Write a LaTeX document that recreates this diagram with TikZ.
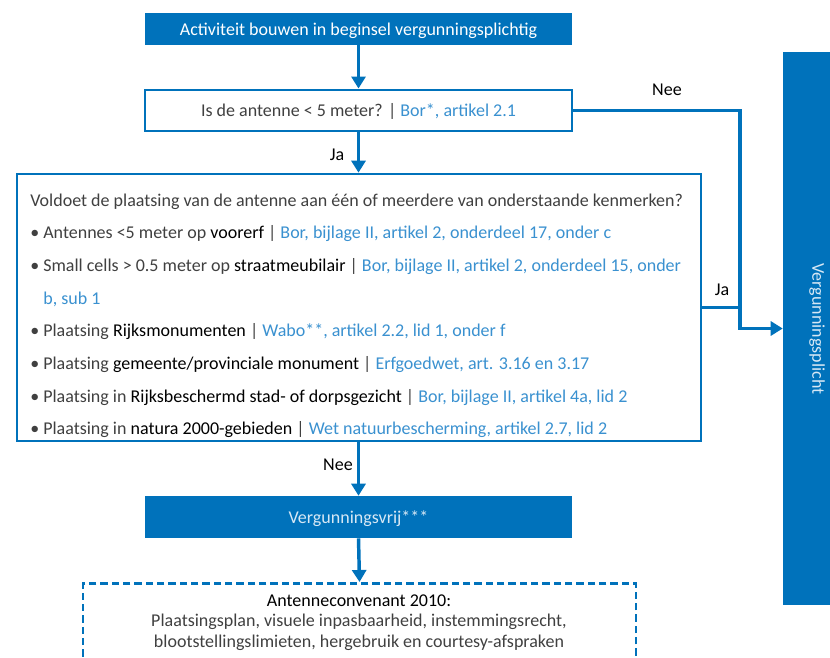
\documentclass[tikz,border=0pt]{standalone}
\usepackage{fontspec}
\setmainfont{Carlito}
\usetikzlibrary{arrows.meta}

\definecolor{vblue}{RGB}{0,114,187}
\definecolor{reflink}{RGB}{58,145,208}
\definecolor{bodygray}{RGB}{64,64,64}
\definecolor{softwhite}{RGB}{215,232,245}

\newcommand\kw[1]{\textcolor{black}{#1}}
\newcommand\lawref[1]{\textcolor{reflink}{#1}}

\begin{document}
\begin{tikzpicture}[x=0.75pt,y=-0.75pt,
  every node/.style={font=\fontsize{13.5}{16}\selectfont},
  solidbox/.style={fill=vblue, draw=none, inner sep=0pt},
  outlinebox/.style={draw=vblue, fill=white, inner sep=0pt},
  boxtext/.style={text height=11.5pt, text depth=2.5pt},
  dashbox/.style={draw=vblue, line width=2.2pt, dash pattern=on 5.5pt off 3pt, inner sep=0pt},
  bodyline/.style={anchor=base west, inner sep=0pt, text=bodygray},
  centerline/.style={anchor=base, inner sep=0pt, text=bodygray},
  conn/.style={draw=vblue, line width=2.6pt},
  arr/.style={conn, -{Triangle[length=9pt,width=10.5pt]}},
  answer/.style={inner sep=0pt, text=black}
]
\clip (0,0) rectangle (830,657);
\useasboundingbox (0,0) rectangle (830,657);

% decision chain
\node[solidbox, boxtext, text=white, minimum width=320.25pt, minimum height=24pt] (start) at (358.5,29)
  {Activiteit bouwen in beginsel vergunningsplichtig};
\node[outlinebox, boxtext, line width=2.2pt, minimum width=320.25pt, minimum height=30.75pt, text=bodygray] (q1) at (358.5,110.5)
  {Is de antenne < 5 meter? | \lawref{Bor*, artikel 2.1}};
\node[outlinebox, line width=2pt, minimum width=513pt, minimum height=200.25pt] (crit) at (359,307.5) {};
\node[solidbox, boxtext, text=softwhite, minimum width=320.25pt, minimum height=31.5pt] (vrij) at (358.5,517)
  {Vergunningsvrij***};
\node[dashbox, minimum width=414.75pt, minimum height=90pt, anchor=north] (conv) at (359.5,582) {};
\node[solidbox, minimum width=51pt, minimum height=414.75pt] (vp) at (817,328.5) {};
\node[rotate=-90, text=softwhite, inner sep=0pt] (vplabel) at (817,329) {Vergunningsplicht};

% criteria list
\node[bodyline] (c0) at (30,206) {Voldoet de plaatsing van de antenne aan één of meerdere van onderstaande kenmerken?};
\node[bodyline] (c1) at (30,238.7) {• Antennes <5 meter op \kw{voorerf} | \lawref{Bor, bijlage II, artikel 2, onderdeel 17, onder c}};
\node[bodyline] (c2) at (30,271.4) {• Small cells > 0.5 meter op \kw{straatmeubilair} | \lawref{Bor, bijlage II, artikel 2, onderdeel 15, onder}};
\node[bodyline] (c3) at (30,304.1) {\phantom{• }\lawref{b, sub 1}};
\node[bodyline] (c4) at (30,336.8) {• Plaatsing \kw{Rijksmonumenten} | \lawref{Wabo**, artikel 2.2, lid 1, onder f}};
\node[bodyline] (c5) at (30,369.5) {• Plaatsing \kw{gemeente/provinciale monument} | \lawref{Erfgoedwet, art. 3.16 en 3.17}};
\node[bodyline] (c6) at (30,402.2) {• Plaatsing in \kw{Rijksbeschermd stad- of dorpsgezicht} | \lawref{Bor, bijlage II, artikel 4a, lid 2}};
\node[bodyline] (c7) at (30,434.9) {• Plaatsing in \kw{natura 2000-gebieden} | \lawref{Wet natuurbescherming, artikel 2.7, lid 2}};

% covenant text
\node[centerline, text=black] (v0) at (359,606) {Antenneconvenant 2010:};
\node[centerline] (v1) at (359,626.5) {Plaatsingsplan, visuele inpasbaarheid, instemmingsrecht,};
\node[centerline] (v2) at (359,647) {blootstellingslimieten, hergebruik en courtesy-afspraken};

% connectors
\coordinate (jx) at (740,0);
\draw[arr] (start.south) -- (q1.north);
\draw[arr] (q1.south) -- (q1.south |- crit.north);
\draw[arr] (q1.east) -- (q1.east -| jx) |- (vp.west);
\draw[conn] (crit.east) -- (crit.east -| jx);
\draw[arr] (vrij.north |- crit.south) -- (vrij.north);
\draw[arr] (vrij.south) -- (conv.north);

% answer labels
\node[answer] (janee1) at (667,90) {Nee};
\node[answer] (jaja1) at (337,155) {Ja};
\node[answer] (jaja2) at (722,290) {Ja};
\node[answer] (janee2) at (338,465) {Nee};
\end{tikzpicture}
\end{document}
